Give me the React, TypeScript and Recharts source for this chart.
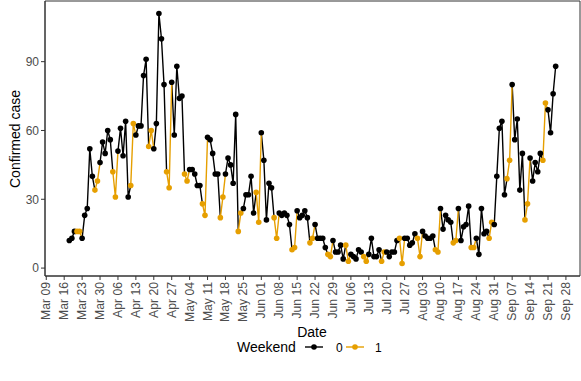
import { LineChart, Line, XAxis, YAxis, ReferenceArea } from 'recharts'

// daily confirmed cases, 2020-03-18 .. 2020-09-24
const marchCases = [12, 13, 16, 16, 16, 13, 23, 26, 52, 40, 34, 38, 46, 55]
const aprilCases = [
  50, 60, 56, 42, 31, 51, 61, 49, 64, 31,
  36, 63, 58, 62, 62, 84, 91, 53, 60, 52,
  63, 111, 100, 80, 42, 35, 81, 58, 88, 74,
]
const mayCases = [
  75, 41, 38, 43, 43, 41, 36, 36, 28, 23,
  57, 56, 50, 41, 41, 22, 31, 41, 48, 45,
  37, 67, 16, 24, 26, 32, 32, 40, 24, 33, 20,
]
const juneCases = [
  59, 47, 21, 37, 35, 22, 13, 24, 23, 24,
  23, 19, 8, 9, 25, 22, 23, 25, 22, 11,
  13, 19, 13, 13, 13, 9, 6, 5, 12, 7,
]
const julyCases = [
  7, 10, 4, 10, 3, 6, 5, 4, 8, 7,
  5, 3, 6, 13, 5, 5, 8, 3, 7, 7,
  5, 7, 7, 12, 13, 2, 13, 13, 10, 11, 15,
]
const augustCases = [
  13, 5, 16, 14, 13, 13, 14, 8, 7, 26,
  17, 23, 21, 20, 11, 12, 26, 12, 18, 19,
  27, 9, 9, 13, 6, 26, 15, 16, 13, 20, 19,
]
const septemberCases = [
  40, 61, 64, 32, 39, 47, 80, 56, 65, 34,
  50, 21, 28, 48, 38, 46, 42, 50, 47, 72,
  69, 59, 76, 88,
]

const xTickLabels = [
  'Mar 09', 'Mar 16', 'Mar 23', 'Mar 30', 'Apr 06', 'Apr 13', 'Apr 20', 'Apr 27',
  'May 04', 'May 11', 'May 18', 'May 25', 'Jun 01', 'Jun 08', 'Jun 15', 'Jun 22',
  'Jun 29', 'Jul 06', 'Jul 13', 'Jul 20', 'Jul 27', 'Aug 03', 'Aug 10', 'Aug 17',
  'Aug 24', 'Aug 31', 'Sep 07', 'Sep 14', 'Sep 21', 'Sep 28',
]
const yTicks = [0, 30, 60, 90]

const BLACK = '#000000'
const ORANGE = '#E69F00'
const textColor = '#4d4d4d'
const font = '"Liberation Sans", Arial, sans-serif'

const DAY = 86400000
const axisStart = Date.UTC(2020, 2, 9)
const firstDay = (Date.UTC(2020, 2, 18) - axisStart) / DAY

const cases = [
  ...marchCases, ...aprilCases, ...mayCases, ...juneCases,
  ...julyCases, ...augustCases, ...septemberCases,
]

const rows = cases.map((v, i) => {
  const t = firstDay + i
  const dow = new Date(axisStart + t * DAY).getUTCDay()
  return { t, v, wk: dow === 0 || dow === 6 }
})

// ggplot colours each segment by its starting point
const chartData = rows.map((r, i) => {
  const prev = rows[i - 1]
  const orange = r.wk || (prev && prev.wk)
  const black = !r.wk || (prev && !prev.wk)
  return { t: r.t, v: r.v, wk: r.wk, o: orange ? r.v : null, b: black ? r.v : null }
})

const tMin = chartData[0].t
const tMax = chartData[chartData.length - 1].t
const tPad = (tMax - tMin) * 0.05
const vMin = Math.min(...cases)
const vMax = Math.max(...cases)
const vPad = (vMax - vMin) * 0.05
const xDomain = [tMin - tPad, tMax + tPad]
const yDomain = [vMin - vPad, vMax + vPad]
const xTicks = xTickLabels.map((_, i) => i * 7)

const XTick = (props: any) => {
  const { x, y, payload } = props
  return (
    <g transform={`translate(${x},${y})`}>
      <text
        transform="rotate(-90)"
        textAnchor="end"
        dominantBaseline="central"
        fill={textColor}
        fontSize={12.2}
        fontFamily={font}
      >
        {xTickLabels[Math.round(payload.value / 7)]}
      </text>
    </g>
  )
}

export default function App() {
  return (
    <div style={{ position: 'absolute', left: 0, top: 0, width: 581, height: 381, background: '#fff' }}>
      <LineChart
        width={581}
        height={381}
        data={chartData}
        margin={{ top: 1, right: 1, left: 0, bottom: 45 }}
      >
        <ReferenceArea
          x1={xDomain[0]}
          x2={xDomain[1]}
          y1={yDomain[0]}
          y2={yDomain[1]}
          fill="none"
          stroke="#333333"
          strokeWidth={1}
          ifOverflow="visible"
        />
        <XAxis
          type="number"
          dataKey="t"
          domain={xDomain}
          ticks={xTicks}
          interval={0}
          height={60}
          tick={<XTick />}
          tickSize={4}
          tickMargin={2}
          stroke="#333333"
          tickLine={{ stroke: '#333333' }}
          allowDataOverflow
        />
        <YAxis
          type="number"
          domain={yDomain}
          ticks={yTicks}
          width={45}
          tickSize={4}
          tickMargin={2}
          stroke="#333333"
          tick={{ fill: textColor, fontSize: 12, fontFamily: font }}
          allowDataOverflow
        />
        <Line
          dataKey="b"
          stroke={BLACK}
          strokeWidth={1.4}
          dot={false}
          activeDot={false}
          connectNulls={false}
          isAnimationActive={false}
        />
        <Line
          dataKey="o"
          stroke={ORANGE}
          strokeWidth={1.4}
          dot={false}
          activeDot={false}
          connectNulls={false}
          isAnimationActive={false}
        />
        <Line
          dataKey="v"
          stroke="none"
          activeDot={false}
          isAnimationActive={false}
          dot={(p: any) => (
            <circle
              key={`pt-${p.index}`}
              cx={p.cx}
              cy={p.cy}
              r={2.8}
              fill={p.payload.wk ? ORANGE : BLACK}
            />
          )}
        />
      </LineChart>
      <svg
        width={581}
        height={381}
        style={{ position: 'absolute', left: 0, top: 0, pointerEvents: 'none' }}
      >
        <text
          transform="translate(15,139) rotate(-90)"
          textAnchor="middle"
          dominantBaseline="central"
          fontSize={14}
          fontFamily={font}
          fill="#000"
        >
          Confirmed case
        </text>
        <text x={312} y={337} textAnchor="middle" fontSize={14} fontFamily={font} fill="#000">
          Date
        </text>
        <text x={237} y={352} fontSize={14} fontFamily={font} fill="#000">
          Weekend
        </text>
        <line x1={305} x2={323} y1={347} y2={347} stroke={BLACK} strokeWidth={1.4} />
        <circle cx={314} cy={347} r={2.8} fill={BLACK} />
        <text x={336} y={351.5} fontSize={12} fontFamily={font} fill="#000">0</text>
        <line x1={346} x2={364} y1={347} y2={347} stroke={ORANGE} strokeWidth={1.4} />
        <circle cx={355} cy={347} r={2.8} fill={ORANGE} />
        <text x={375} y={351.5} fontSize={12} fontFamily={font} fill="#000">1</text>
      </svg>
    </div>
  )
}
